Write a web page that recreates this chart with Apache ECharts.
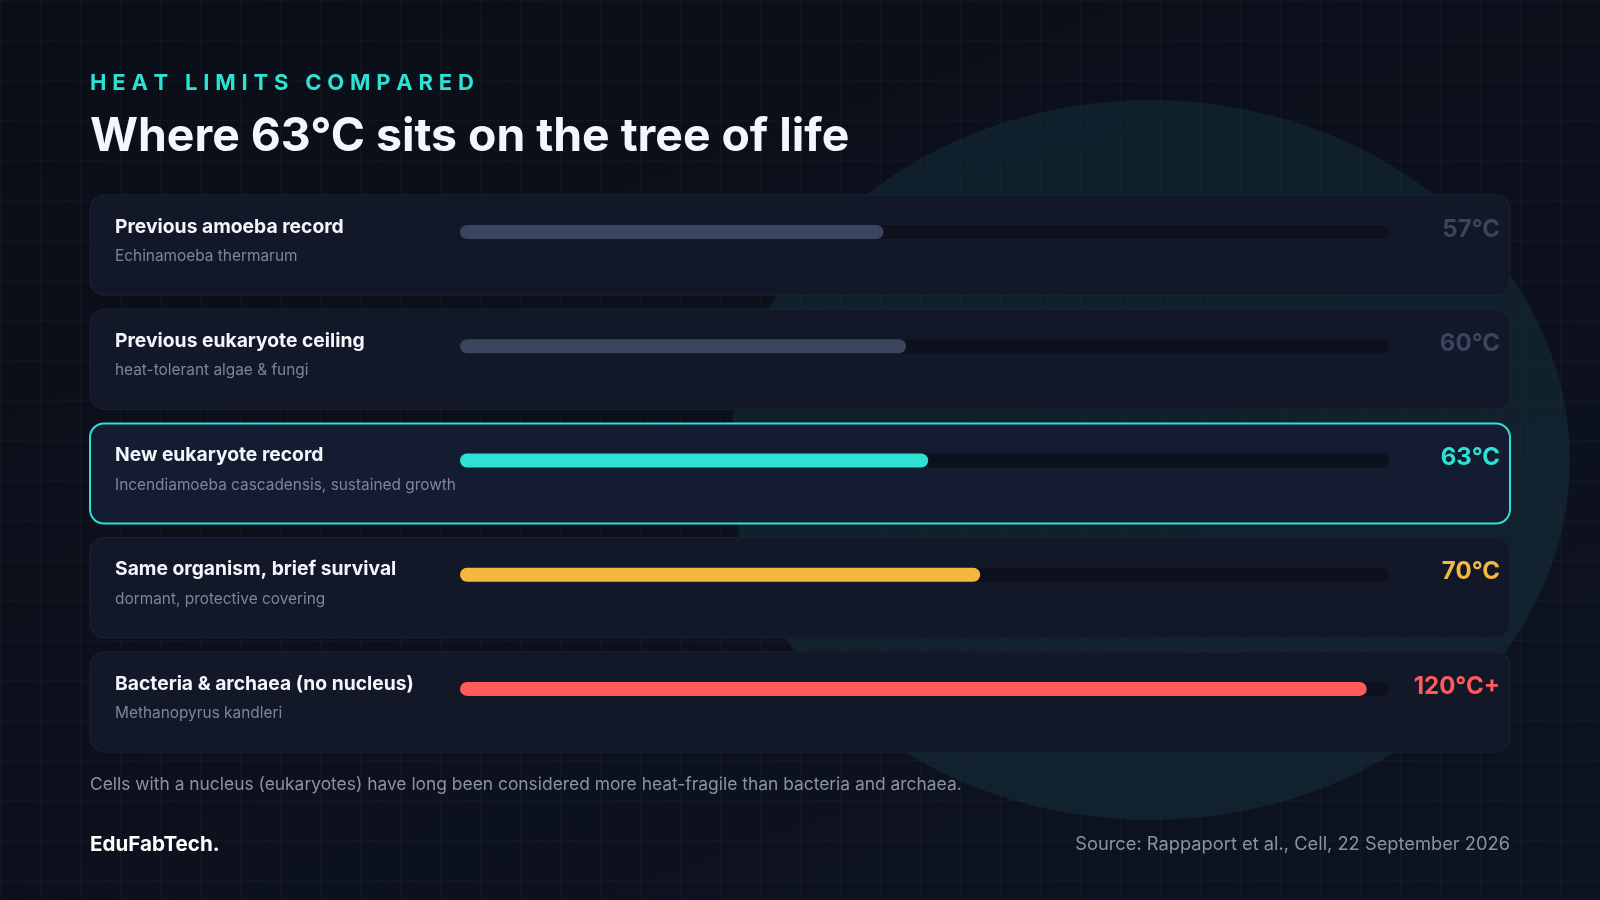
<!DOCTYPE html>
<html lang="en">
<head>
<meta charset="utf-8">
<title>Heat limits compared</title>
<script src="https://cdn.jsdelivr.net/npm/echarts@6/dist/echarts.min.js"></script>
<style>
    html, body { margin: 0; padding: 0; }
    body {
        width: 1600px; height: 900px; overflow: hidden;
        background-color: #0b0f1a;
        background-image:
            linear-gradient(rgba(255,255,255,0.022) 1px, transparent 1px),
            linear-gradient(90deg, rgba(255,255,255,0.022) 1px, transparent 1px),
            linear-gradient(160deg, #0a0e18 0%, #0e1321 100%);
        background-size: 40px 40px, 40px 40px, 100% 100%;
    }
    #main { width: 1600px; height: 900px; }
</style>
</head>
<body>
<div id="main"></div>
<script type="text/javascript">
    // data
    var names = ['Previous amoeba record', 'Previous eukaryote ceiling', 'New eukaryote record',
                 'Same organism, brief survival', 'Bacteria & archaea (no nucleus)'];
    var notes = ['Echinamoeba thermarum', 'heat-tolerant algae & fungi',
                 'Incendiamoeba cascadensis, sustained growth', 'dormant, protective covering',
                 'Methanopyrus kandleri'];
    var temps = [57, 60, 63, 70, 122];
    var tempLabels = ['57°C', '60°C', '63°C', '70°C', '120°C+'];
    var axisMax = 125;
    var highlight = 2;

    var barColors = ['#3b4560', '#3b4560', '#2de2d3', '#f4b740', '#ff5b5b'];
    var labelColors = ['#3a4560', '#3a4560', '#2de2d3', '#f4b740', '#ff5b5b'];

    var myChart = echarts.init(document.getElementById('main'));

    // spaced-out eyebrow, one letter per text so we can track it
    var eyebrow = 'HEAT LIMITS COMPARED';
    var mctx = document.createElement('canvas').getContext('2d');
    mctx.font = '700 22px Inter';
    var gap = (380 - mctx.measureText(eyebrow).width) / (eyebrow.length - 1);
    var ex = 90;
    var letters = [];
    for (var k = 0; k < eyebrow.length; k++) {
        letters.push({
            type: 'text', x: ex, y: 83,
            style: { text: eyebrow[k], fill: '#2de2d3', font: '700 22px Inter', verticalAlign: 'middle' }
        });
        ex += mctx.measureText(eyebrow[k]).width + gap;
    }

    var option = {
        animation: false,
        grid: { left: 460, right: 211, top: 175, height: 571 },
        xAxis: { type: 'value', min: 0, max: axisMax, show: false },
        yAxis: { type: 'category', data: names, inverse: true, show: false },
        graphic: [
            {
                type: 'circle', x: 1150, y: 460, scaleX: 420 / 360, z: 0, silent: true,
                shape: { cx: 0, cy: 0, r: 360 },
                style: { fill: 'rgba(30,90,100,0.22)' }
            },
            { type: 'group', children: letters },
            {
                type: 'text', x: 90, y: 137,
                style: { text: 'Where 63°C sits on the tree of life', fill: '#f3f6fc',
                         font: '700 46.3px Inter', verticalAlign: 'middle' }
            },
            {
                type: 'text', x: 90, y: 785,
                style: { text: 'Cells with a nucleus (eukaryotes) have long been considered more heat-fragile than bacteria and archaea.',
                         fill: '#8a93a6', font: '400 17.4px Inter', verticalAlign: 'middle' }
            },
            {
                type: 'text', x: 90, y: 845,
                style: { text: 'EduFabTech.', fill: '#ffffff', font: '700 20.6px Inter', verticalAlign: 'middle' }
            },
            {
                type: 'text', x: 1510, y: 845,
                style: { text: 'Source: Rappaport et al., Cell, 22 September 2026', fill: '#8a93a6',
                         font: '400 18.3px Inter', align: 'right', verticalAlign: 'middle' }
            }
        ],
        series: [
            {
                // card behind each row, placed on the category band
                type: 'custom',
                z: 1,
                silent: true,
                data: names.map(function (n, i) { return [0, i]; }),
                renderItem: function (params, api) {
                    var idx = api.value(1);
                    var c = api.coord([0, idx]);
                    var band = api.size([0, 1])[1];
                    var top = c[1] - band / 2 + 20;
                    var h = band - 14;
                    var hi = idx === highlight;
                    return {
                        type: 'group',
                        children: [
                            {
                                type: 'rect',
                                shape: { x: 90, y: top, width: 1420, height: h, r: 14 },
                                style: { fill: hi ? '#141c31' : '#121828', stroke: hi ? '#2de2d3' : '#1b2335', lineWidth: hi ? 2 : 1 }
                            },
                            {
                                type: 'text', x: 115, y: top + 32,
                                style: { text: names[idx], fill: '#f3f5fa', font: '700 19.3px Inter', verticalAlign: 'middle' }
                            },
                            {
                                type: 'text', x: 115, y: top + 61.5,
                                style: { text: notes[idx], fill: '#7d8699', font: '400 15.4px Inter', verticalAlign: 'middle' }
                            },
                            {
                                type: 'text', x: 1500, y: top + 34.5,
                                style: { text: tempLabels[idx], fill: labelColors[idx], font: '700 24px Inter',
                                         align: 'right', verticalAlign: 'middle' }
                            }
                        ]
                    };
                }
            },
            {
                type: 'bar',
                z: 2,
                silent: true,
                barWidth: 14,
                showBackground: true,
                backgroundStyle: { color: '#0c111d', borderRadius: 7 },
                itemStyle: { borderRadius: 7 },
                data: temps.map(function (v, i) {
                    return { value: v, itemStyle: { color: barColors[i] } };
                })
            }
        ]
    };
    myChart.setOption(option);
</script>
</body>
</html>
